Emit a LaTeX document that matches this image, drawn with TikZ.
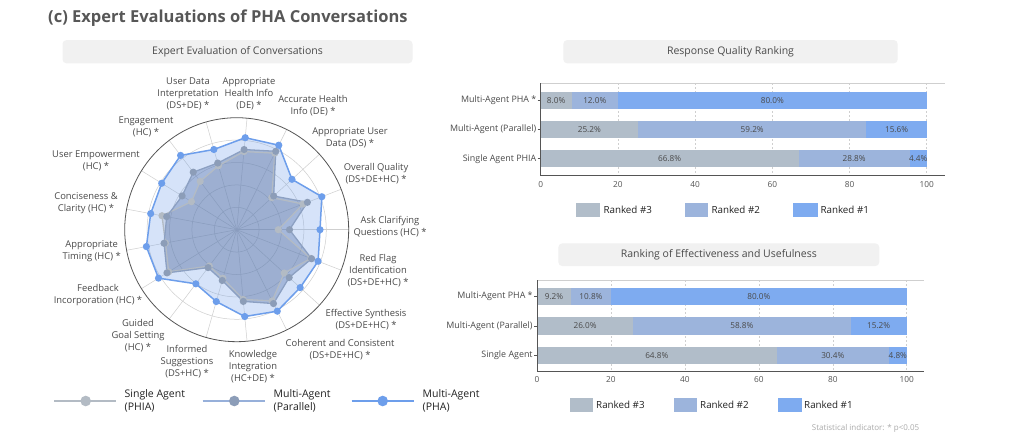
\documentclass[tikz,border=0pt]{standalone}
\usepackage{fontspec}
\setmainfont{Open Sans}
\usetikzlibrary{calc}
\definecolor{titlegray}{HTML}{575757}
\definecolor{txt}{HTML}{4A4A4A}
\definecolor{dtxt}{HTML}{222222}
\definecolor{panelbg}{HTML}{F1F1F1}
\definecolor{gridc}{HTML}{CFCFCF}
\definecolor{axc}{HTML}{555555}
\definecolor{phablue}{HTML}{6D9EEB}
\definecolor{parc}{HTML}{8CA0C2}
\definecolor{sinc}{HTML}{B3BBC4}
\definecolor{parfill}{HTML}{4F6CA7}
\definecolor{sinfill}{HTML}{6E7D96}
\definecolor{pardot}{HTML}{8C9DB8}
\definecolor{parleg}{HTML}{97B0DA}
\definecolor{notec}{HTML}{AAAAAA}
\definecolor{rthree}{HTML}{B1BDC9}
\definecolor{rtwo}{HTML}{9CB4DC}
\definecolor{rone}{HTML}{7EABF0}
\tikzset{
  panel/.style={fill=panelbg, rounded corners=4pt, inner sep=0pt, text=txt, font=\fontsize{10.5}{12}\selectfont},
  rlab/.style={align=center, text=txt, font=\fontsize{9.4}{12}\selectfont, inner sep=0pt},
  ringline/.style={draw=gridc, line width=0.5pt},
  spoke/.style={draw=gridc, line width=0.5pt},
  legtxt/.style={anchor=west, align=left, text=dtxt, font=\fontsize{10.5}{13}\selectfont, inner sep=0pt},
  chleg/.style={anchor=west, text=dtxt, font=\fontsize{9.8}{12}\selectfont, inner sep=0pt},
  rowlab/.style={anchor=east, text=txt, font=\fontsize{8.9}{11}\selectfont, inner sep=0pt},
  ticklab/.style={text=axc, font=\fontsize{8.3}{10}\selectfont, inner sep=0pt},
  vlab/.style={text=txt, font=\fontsize{8.2}{10}\selectfont, inner sep=0pt},
  axisline/.style={draw=axc, line width=0.9pt},
  vgrid/.style={draw=gridc, line width=0.5pt, dash pattern=on 2pt off 2pt},
}
\newcommand\barrow[6]{%
  \pgfmathsetmacro\xa{#1+#4*#2}%
  \pgfmathsetmacro\xb{#1+(#4+#5)*#2}%
  \pgfmathsetmacro\xc{#1+100*#2}%
  \fill[rthree] (#1,#3-8.7) rectangle (\xa,#3+8.7);
  \fill[rtwo] (\xa,#3-8.7) rectangle (\xb,#3+8.7);
  \fill[rone] (\xb,#3-8.7) rectangle (\xc,#3+8.7);
  \node[vlab] at ({(#1+\xa)/2},#3) {#4\%};
  \node[vlab] at ({(\xa+\xb)/2},#3) {#5\%};
  \node[vlab] at ({(\xb+\xc)/2},#3) {#6\%};
}
\begin{document}
\begin{tikzpicture}[x=1pt,y=-1pt]
\useasboundingbox (0,0) rectangle (1024,440);
\fill[white] (0,0) rectangle (1024,440);

% title
\node[anchor=base west, inner sep=0pt, text=titlegray, font=\fontsize{16.5}{19}\selectfont\bfseries] (title) at (48,22.5) {(c) Expert Evaluations of PHA Conversations};

% ---------------- radar ----------------
\node[panel, minimum width=350pt, minimum height=23.3pt] (rtitle) at (237.5,51.7) {Expert Evaluation of Conversations};

\def\phaR{83.3,91.3,74.8,94.4,92.4,83.4,93.1,88.2,87.5,91.9,92,67.8,74.7,87.2,91,85.9,87.3}
\def\parR{52.8,75.8,50,87.6,80.5,69.3,72.1,64.2,71.2,73.9,82,47.5,52.8,72,82.5,71,80.3}
\def\sinR{41.6,71.1,47.5,85.5,78.5,66.5,60.6,53.2,76,72.5,80,45.5,50.5,70,79.5,64.3,79.5}

\begin{scope}[shift={(236.7,229.7)}, yscale=-1]
  \coordinate (rc) at (0,0);
  \foreach \rr in {22.4,44.8,67.2,89.6} \draw[ringline] (rc) circle (\rr);
  \foreach \k in {0,...,16} \draw[spoke] (rc) -- ({\k*360/17}:112);
  \draw[draw=axc, line width=0.8pt] (rc) circle (112);
  \foreach \r [count=\i from 0] in \phaR { \coordinate (pha\i) at ({\i*360/17}:\r); }
  \foreach \r [count=\i from 0] in \parR { \coordinate (par\i) at ({\i*360/17}:\r); }
  \foreach \r [count=\i from 0] in \sinR { \coordinate (sin\i) at ({\i*360/17}:\r); }
  \fill[phablue, fill opacity=0.28] (pha0) \foreach \i in {1,...,16} {-- (pha\i)} -- cycle;
  \fill[parfill, fill opacity=0.36] (par0) \foreach \i in {1,...,16} {-- (par\i)} -- cycle;
  \fill[sinfill, fill opacity=0.14] (sin0) \foreach \i in {1,...,16} {-- (sin\i)} -- cycle;
  \draw[sinc, line width=1.3pt, line join=round] (sin0) \foreach \i in {1,...,16} {-- (sin\i)} -- cycle;
  \draw[parc, line width=1.3pt, line join=round] (par0) \foreach \i in {1,...,16} {-- (par\i)} -- cycle;
  \draw[phablue, line width=1.5pt, line join=round] (pha0) \foreach \i in {1,...,16} {-- (pha\i)} -- cycle;
  \foreach \i in {0,...,16} \fill[sinc] (sin\i) circle (3.6);
  \foreach \i in {0,...,16} \fill[pardot] (par\i) circle (3.6);
  \foreach \i in {0,...,16} \fill[phablue] (pha\i) circle (3.6);
\end{scope}

% radar labels
\node[rlab] (l0) at (390,226.5) {Ask Clarifying\\Questions (HC) *};
\node[rlab] (l1) at (376,174) {Overall Quality\\(DS+DE+HC) *};
\node[rlab] (l2) at (350,138) {Appropriate User\\Data (DS) *};
\node[rlab] (l3) at (313,106) {Accurate Health\\Info (DE) *};
\node[rlab] (l4) at (249,94) {Appropriate\\Health Info\\(DE) *};
\node[rlab] (l5) at (188,94) {User Data\\Interpretation\\(DS+DE) *};
\node[rlab] (l6) at (146,127) {Engagement\\(HC) *};
\node[rlab] (l7) at (96,161) {User Empowerment\\(HC) *};
\node[rlab] (l8) at (86,203) {Conciseness \&\\Clarity (HC) *};
\node[rlab] (l9) at (91.7,251) {Appropriate\\Timing (HC) *};
\node[rlab] (l10) at (98,295) {Feedback\\Incorporation (HC) *};
\node[rlab] (l11) at (138,335.5) {Guided\\Goal Setting\\(HC) *};
\node[rlab] (l12) at (187,362) {Informed\\Suggestions\\(DS+HC) *};
\node[rlab] (l13) at (253,367) {Knowledge\\Integration\\(HC+DE) *};
\node[rlab] (l14) at (340,350) {Coherent and Consistent\\(DS+DE+HC) *};
\node[rlab] (l15) at (366,320) {Effective Synthesis\\(DS+DE+HC) *};
\node[rlab] (l16) at (378,271) {Red Flag\\Identification\\(DS+DE+HC) *};

% radar legend
\draw[sinc, line width=2.6pt] (54,401) -- (116,401);
\fill[sinc] (85.7,401) circle (5.3);
\node[legtxt] (lg1) at (124.5,401) {Single Agent\\(PHIA)};
\draw[parleg, line width=2.6pt] (202.7,401) -- (265,401);
\fill[pardot] (234.3,401) circle (5.3);
\node[legtxt] (lg2) at (273.5,401) {Multi-Agent\\(Parallel)};
\draw[phablue, line width=2.6pt] (351.7,401) -- (414,401);
\fill[phablue] (382.7,401) circle (5.3);
\node[legtxt] (lg3) at (422.5,401) {Multi-Agent\\(PHA)};

% ---------------- chart 1 ----------------
\node[panel, minimum width=334.4pt, minimum height=23.3pt] (c1title) at (730.5,51.7) {Response Quality Ranking};
\draw[gridc, line width=0.4pt] (540.7,83.3) -- (945,83.3);
\foreach \v in {20,40,60,80,100} \draw[vgrid] ({540.7+\v*3.86},83.3) -- ({540.7+\v*3.86},175);
\barrow{540.7}{3.86}{100.3}{8.0}{12.0}{80.0}
\barrow{540.7}{3.86}{129.5}{25.2}{59.2}{15.6}
\barrow{540.7}{3.86}{158.7}{66.8}{28.8}{4.4}
\draw[axisline] (540.7,83.3) -- (540.7,175) -- (945,175);
\foreach \yy in {100.3,129.5,158.7} \draw[axc, line width=0.6pt] (537.7,\yy) -- (540.7,\yy);
\node[rowlab] (c1r1) at (536.5,100.3) {Multi-Agent PHA *};
\node[rowlab] (c1r2) at (536.5,129.5) {Multi-Agent (Parallel)};
\node[rowlab] (c1r3) at (536.5,158.7) {Single Agent PHIA};
\foreach \v in {0,20,40,60,80,100} \node[ticklab] at ({540.7+\v*3.86},184.3) {\v};
\fill[rthree] (576,202.7) rectangle (600,216.7);
\node[chleg] (c1l1) at (603.3,209.7) {Ranked \#3};
\fill[rtwo] (685,202.7) rectangle (708.3,216.7);
\node[chleg] (c1l2) at (711.3,209.7) {Ranked \#2};
\fill[rone] (792.7,202.7) rectangle (817.7,216.7);
\node[chleg] (c1l3) at (820.3,209.7) {Ranked \#1};

% ---------------- chart 2 ----------------
\node[panel, minimum width=321pt, minimum height=22.7pt] (c2title) at (718.8,254.7) {Ranking of Effectiveness and Usefulness};
\draw[gridc, line width=0.4pt] (537,280) -- (924,280);
\foreach \v in {20,40,60,80,100} \draw[vgrid] ({537+\v*3.697},280) -- ({537+\v*3.697},371);
\barrow{537}{3.697}{296.2}{9.2}{10.8}{80.0}
\barrow{537}{3.697}{325.8}{26.0}{58.8}{15.2}
\barrow{537}{3.697}{355.3}{64.8}{30.4}{4.8}
\draw[axisline] (537,280) -- (537,371) -- (924,371);
\foreach \yy in {296.2,325.8,355.3} \draw[axc, line width=0.6pt] (534,\yy) -- (537,\yy);
\node[rowlab] (c2r1) at (532.8,296.2) {Multi-Agent PHA *};
\node[rowlab] (c2r2) at (532.8,325.8) {Multi-Agent (Parallel)};
\node[rowlab] (c2r3) at (532.8,355.3) {Single Agent};
\foreach \v in {0,20,40,60,80,100} \node[ticklab] at ({537+\v*3.697},380) {\v};
\fill[rthree] (570,397.7) rectangle (592.7,411.7);
\node[chleg] (c2l1) at (596,404.7) {Ranked \#3};
\fill[rtwo] (674.3,397.7) rectangle (697.3,411.7);
\node[chleg] (c2l2) at (700,404.7) {Ranked \#2};
\fill[rone] (778.3,397.7) rectangle (801.7,411.7);
\node[chleg] (c2l3) at (804,404.7) {Ranked \#1};

\node[anchor=west, inner sep=0pt, text=notec, font=\fontsize{8}{10}\selectfont] (note) at (811.7,428.3) {Statistical indicator: * p<0.05};
\end{tikzpicture}
\end{document}
